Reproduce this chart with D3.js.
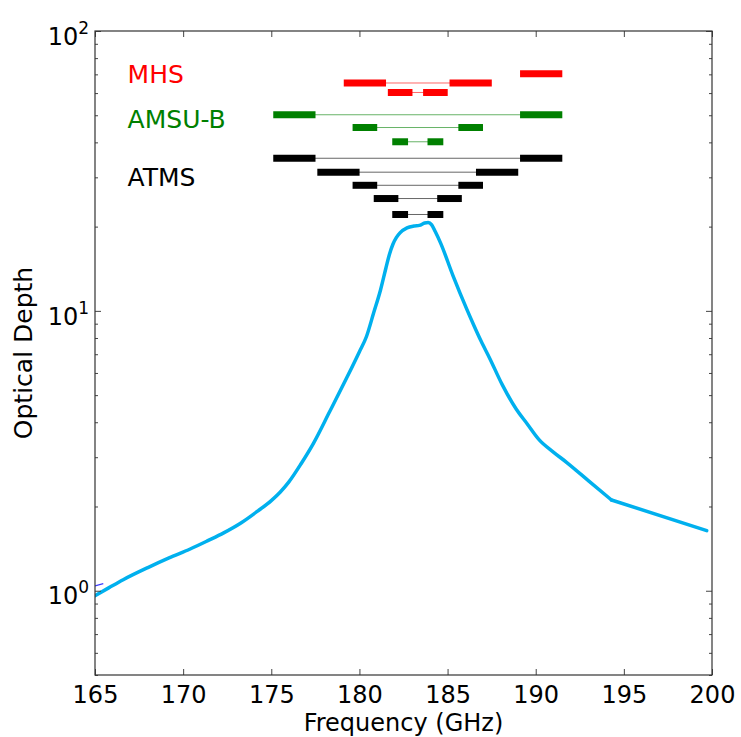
<!DOCTYPE html>
<html>
<head>
<meta charset="utf-8">
<style>
body { margin: 0; background: #fff; }
svg { font-family: "DejaVu Sans", sans-serif; }
.axis .domain { display: none; }
</style>
</head>
<body>
<svg width="741" height="737"></svg>
<script src="https://cdn.jsdelivr.net/npm/d3@7"></script>
<script>

// water vapour line optical depth
var freqs = [165, 165.8, 166.6, 168, 169.2, 170.4, 171.4, 172.3, 173.3, 174.2, 175, 175.5, 176, 176.7,
             177.4, 178.3, 179.3, 180.0, 180.4, 180.8, 181.2, 181.5, 181.7, 181.9, 182.1, 182.3, 182.7,
             183.1, 183.4, 183.7, 183.9, 184.1, 184.3, 184.6, 185.3, 185.7, 186.1, 186.5, 186.9, 187.4,
             188.1, 188.9, 189.5, 190.2, 191.0, 191.8, 193.0, 194.3, 199.7];
var depth = [0.96, 1.026, 1.095, 1.21, 1.31, 1.41, 1.51, 1.61, 1.75, 1.92, 2.1, 2.25, 2.45, 2.85,
             3.37, 4.35, 5.8, 7.15, 8.1, 9.8, 11.9, 14.2, 15.9, 17.3, 18.3, 19.0, 19.8,
             20.1, 20.2, 20.6, 20.7, 20.3, 19.2, 17.5, 13.4, 11.6, 10.1, 8.85, 7.8, 6.75,
             5.45, 4.45, 3.96, 3.46, 3.13, 2.86, 2.47, 2.11, 1.64];
var kinkFreq = 194.3; // sharp corner in the curve

// second series, only its very start is inside the frame
var freqs2 = [165, 165.47];
var depth2 = [1.04, 1.06];

var lineCenter = 183.31;

// channels: level on the plot, centre frequency, +/- offset, bandwidth (GHz)
var mhsLevels = [70.4, 65.2, 60.3];
var mhsCenters = [190.31, lineCenter, lineCenter];
var mhsOffsets = [0, 3, 1];
var mhsWidths = [2, 2, 1];

var amsuLevels = [50.2, 45.2, 40.2];
var amsuOffsets = [7, 3, 1];
var amsuWidths = [2, 1, 0.5];

var atmsLevels = [35.1, 31.3, 28.1, 25.2, 22.1];
var atmsOffsets = [7, 4.5, 3, 1.8, 1];
var atmsWidths = [2, 2, 1, 1, 0.5];

var xTicks = [165, 170, 175, 180, 185, 190, 195, 200];
var yTicks = [1, 10, 100];
var yMinor = [0.5, 0.6, 0.7, 0.8, 0.9, 2, 3, 4, 5, 6, 7, 8, 9, 20, 30, 40, 50, 60, 70, 80, 90];

var svg = d3.select("svg"),
    margin = {top: 31, right: 29, bottom: 62, left: 95},
    width = +svg.attr("width") - margin.left - margin.right,
    height = +svg.attr("height") - margin.top - margin.bottom,
    g = svg.append("g").attr("transform", "translate(" + margin.left + "," + margin.top + ")");

var x = d3.scaleLinear().domain([165, 200]).range([0, width]);
var y = d3.scaleLog().domain([0.5, 100]).range([height, 0]);

var plot = g.append("g");
plot.append("clipPath").attr("id", "clip")
  .append("rect").attr("width", width).attr("height", height);

var line = d3.line()
    .x(function(d) { return x(d[0]); })
    .y(function(d) { return y(d[1]); })
    .curve(d3.curveMonotoneX);

plot.append("path")
    .datum(freqs2.map(function(f, i) { return [f, depth2[i]]; }))
    .attr("clip-path", "url(#clip)")
    .attr("fill", "none")
    .attr("stroke", "#3b3bff")
    .attr("stroke-width", 1.2)
    .attr("d", line);

var pts = freqs.map(function(f, i) { return [f, depth[i]]; });
var k = freqs.indexOf(kinkFreq);
[pts.slice(0, k + 1), pts.slice(k)].forEach(function(part) {
  plot.append("path")
      .datum(part)
      .attr("clip-path", "url(#clip)")
      .attr("fill", "none")
      .attr("stroke", "#00b0ee")
      .attr("stroke-width", 3.5)
      .attr("stroke-linejoin", "round")
      .attr("stroke-linecap", "round")
      .attr("d", line);
});

// channel bars
function drawChannels(levels, centers, offsets, widths, color) {
  levels.forEach(function(lev, i) {
    var c = centers[i], off = offsets[i], bw = widths[i];
    var yy = y(lev);
    var bands = off === 0 ? [c] : [c - off, c + off];
    if (off !== 0) {
      plot.append("line")
          .attr("x1", x(c - off)).attr("x2", x(c + off))
          .attr("y1", yy).attr("y2", yy)
          .attr("stroke", color)
          .attr("stroke-opacity", 0.6)
          .attr("stroke-width", 1);
    }
    bands.forEach(function(f) {
      plot.append("line")
          .attr("x1", x(f - bw / 2)).attr("x2", x(f + bw / 2))
          .attr("y1", yy).attr("y2", yy)
          .attr("stroke", color)
          .attr("stroke-width", 7)
          .attr("stroke-linecap", "square");
    });
  });
}

drawChannels(mhsLevels, mhsCenters, mhsOffsets, mhsWidths, "#ff0000");
drawChannels(amsuLevels, amsuLevels.map(function() { return lineCenter; }), amsuOffsets, amsuWidths, "#008000");
drawChannels(atmsLevels, atmsLevels.map(function() { return lineCenter; }), atmsOffsets, atmsWidths, "#000000");

// instrument names
var names = [["MHS", 65.2, "#ff0000"], ["AMSU-B", 45.2, "#008000"], ["ATMS", 28.0, "#000000"]];
plot.selectAll(".name")
  .data(names)
  .enter().append("text")
    .attr("class", "name")
    .attr("x", x(166.85))
    .attr("y", function(d) { return y(d[1]); })
    .attr("font-size", 25)
    .attr("fill", function(d) { return d[2]; })
    .text(function(d) { return d[0]; });

// axes, ticks point inwards on all four sides
var tickColor = "#444";

g.append("g")
    .attr("class", "axis")
    .attr("transform", "translate(0," + height + ")")
    .call(d3.axisBottom(x).tickValues(xTicks).tickSize(-6).tickPadding(11).tickFormat(d3.format("d")))
    .call(function(s) {
      s.selectAll("line").attr("stroke", tickColor);
      s.selectAll("text").attr("font-size", 24).attr("fill", "#000").attr("font-family", "DejaVu Sans");
    });

g.append("g")
    .attr("class", "axis")
    .call(d3.axisTop(x).tickValues(xTicks).tickSize(-6).tickFormat(""))
    .selectAll("line").attr("stroke", tickColor);

var left = g.append("g")
    .attr("class", "axis")
    .call(d3.axisLeft(y).tickValues(yTicks).tickSize(-6).tickPadding(6).tickFormat(""));
left.selectAll("line").attr("stroke", tickColor);
left.selectAll(".tick text")
    .attr("font-size", 24)
    .attr("fill", "#000")
    .attr("font-family", "DejaVu Sans")
    .attr("dy", "0.55em")
    .each(function(d) {
      var t = d3.select(this);
      t.append("tspan").text("10");
      t.append("tspan")
          .attr("dy", "-0.65em")
          .attr("font-size", 17)
          .text(Math.round(Math.log10(d)));
    });

g.append("g")
    .attr("class", "axis")
    .call(d3.axisLeft(y).tickValues(yMinor).tickSize(-3).tickFormat(""))
    .selectAll("line").attr("stroke", tickColor);

g.append("g")
    .attr("class", "axis")
    .attr("transform", "translate(" + width + ",0)")
    .call(d3.axisRight(y).tickValues(yTicks).tickSize(-6).tickFormat(""))
    .selectAll("line").attr("stroke", tickColor);

g.append("g")
    .attr("class", "axis")
    .attr("transform", "translate(" + width + ",0)")
    .call(d3.axisRight(y).tickValues(yMinor).tickSize(-3).tickFormat(""))
    .selectAll("line").attr("stroke", tickColor);

// frame
g.append("rect")
    .attr("width", width)
    .attr("height", height)
    .attr("fill", "none")
    .attr("stroke", "#333")
    .attr("stroke-width", 1.2);

// axis titles
svg.append("text")
    .attr("x", margin.left + width / 2)
    .attr("y", 731)
    .attr("text-anchor", "middle")
    .attr("font-size", 24)
    .text("Frequency (GHz)");

svg.append("text")
    .attr("transform", "translate(32," + (margin.top + height / 2) + ") rotate(-90)")
    .attr("text-anchor", "middle")
    .attr("font-size", 25)
    .text("Optical Depth");

</script>
</body>
</html>
